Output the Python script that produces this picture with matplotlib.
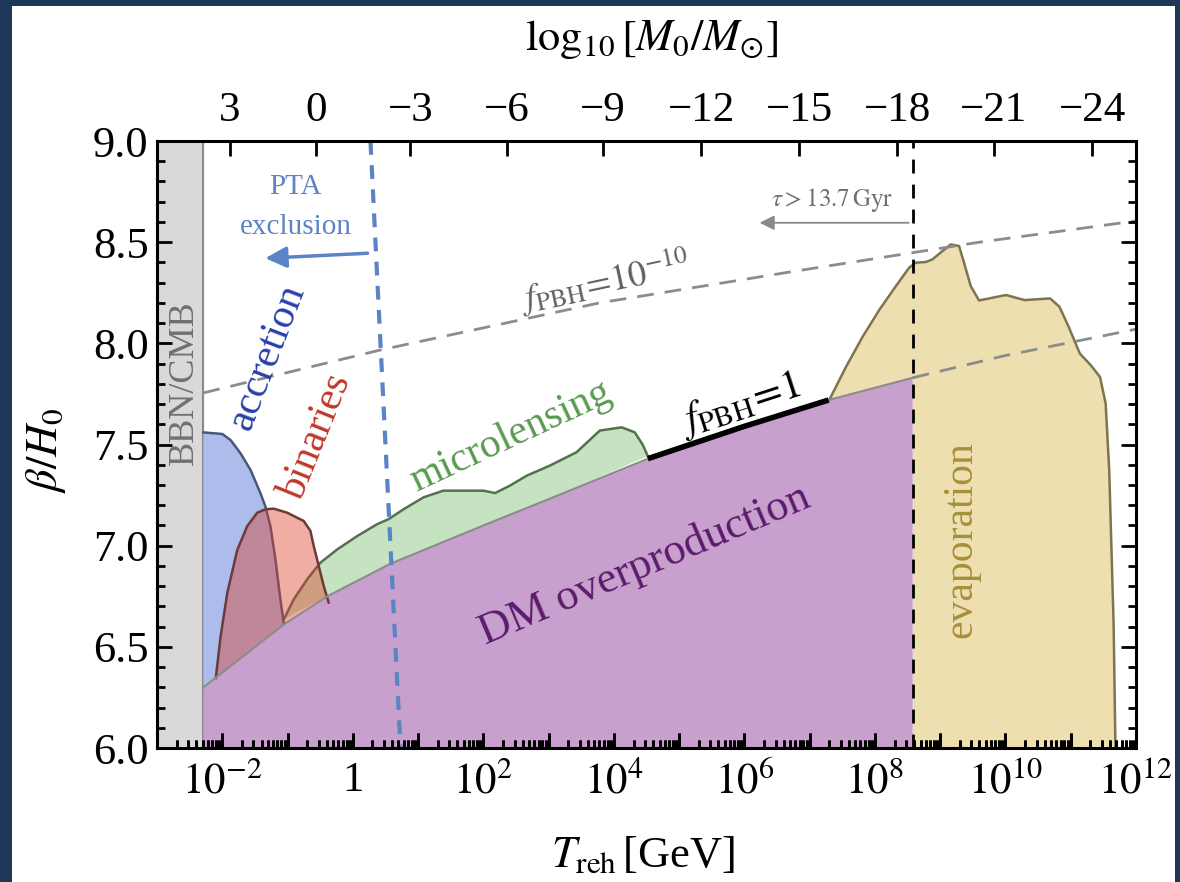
import numpy as np
import matplotlib.pyplot as plt
from matplotlib.patches import Rectangle
from matplotlib.ticker import FixedLocator, NullFormatter, NullLocator, MultipleLocator

plt.rcParams['font.family'] = 'Liberation Serif'
plt.rcParams['mathtext.fontset'] = 'stix'

# ---- data (log10 T_reh [GeV] , beta/H0) ----
bbn_logT = -2.29
evap_logT = 8.58

# DM overproduction boundary (f_PBH = 1)
dm_logT = [-2.29, -1.06, -0.39, 0.57, 2.0, 3.0, 4.52, 6.0, 7.29, 8.58, 10.0, 12.0]
dm_beta = [6.30, 6.61, 6.75, 6.91, 7.10, 7.23, 7.43, 7.59, 7.72, 7.83, 7.94, 8.07]

# f_PBH = 1e-10 line
f10_logT = [-2.29, -2.23, 0.42, 3.78, 6.72, 9.60, 12.0]
f10_beta = [7.755, 7.76, 7.967, 8.20, 8.354, 8.50, 8.605]

# f_PBH = 1 highlighted segment
fone_logT = [4.52, 7.29]

# accretion upper edge
acc_logT = [-2.29, -2.0, -1.873, -1.72, -1.567, -1.414, -1.338, -1.261, -1.185, -1.109, -1.058]
acc_beta = [7.56, 7.552, 7.522, 7.456, 7.374, 7.258, 7.192, 7.093, 6.929, 6.731, 6.616]

# binaries upper edge
bin_logT = [-2.10, -2.026, -1.924, -1.771, -1.618, -1.465, -1.338, -1.211, -1.006, -0.752, -0.65, -0.599, -0.523, -0.446, -0.37]
bin_beta = [6.346, 6.552, 6.766, 6.979, 7.097, 7.163, 7.180, 7.183, 7.163, 7.122, 7.073, 6.998, 6.900, 6.801, 6.719]

# microlensing upper edge
mic_logT = [-1.058, -0.905, -0.70, -0.497, -0.242, 0.064, 0.37, 0.547, 0.777, 1.083, 1.388, 1.694,
            2.0, 2.179, 2.408, 2.664, 3.02, 3.428, 3.784, 4.121, 4.32, 4.44, 4.52]
mic_beta = [6.636, 6.735, 6.834, 6.916, 6.981, 7.047, 7.106, 7.131, 7.18, 7.239, 7.272, 7.272,
            7.272, 7.26, 7.297, 7.346, 7.396, 7.462, 7.569, 7.585, 7.56, 7.50, 7.443]

# evaporation upper edge
eva_logT = [7.30, 7.557, 7.81, 8.066, 8.321, 8.524, 8.627, 8.78, 8.881, 9.034, 9.162, 9.289, 9.365,
            9.468, 9.595, 10.008, 10.29, 10.685, 10.827, 10.968, 11.139, 11.307, 11.449, 11.535,
            11.59, 11.658, 11.685]
eva_beta = [7.72, 7.884, 8.032, 8.165, 8.283, 8.374, 8.399, 8.402, 8.415, 8.456, 8.489, 8.481, 8.399,
            8.283, 8.212, 8.239, 8.214, 8.222, 8.181, 8.082, 7.95, 7.892, 7.834, 7.703,
            7.373, 6.6, 6.0]

# PTA exclusion line
pta_logT = [0.27, 0.73]
pta_beta = [9.0, 6.0]

# top axis: log10[M0/Msun] labels and where they sit in log10 T
top_labels = ['3', '0', '\u22123', '\u22126', '\u22129', '\u221212', '\u221215', '\u221218', '\u221221', '\u221224']
top_logT = [-1.888, -0.563, 0.879, 2.358, 3.835, 5.339, 6.843, 8.345, 9.824, 11.327]


def dm_at(lt):
    return np.interp(lt, dm_logT, dm_beta)


fig = plt.figure(figsize=(11.8, 8.82), dpi=100, facecolor='#1c3856')
fig.patches.append(Rectangle((12 / 1180, 0), 1163 / 1180, 876 / 882, transform=fig.transFigure,
                             facecolor='white', edgecolor='none', zorder=-10))
ax = fig.add_axes([0.1331, 0.1519, 0.8296, 0.6882])
ax.set_xscale('log')
ax.set_xlim(1e-3, 1e12)
ax.set_ylim(6.0, 9.0)

# BBN/CMB band
ax.axvspan(1e-3, 10 ** bbn_logT, color='#d9d9d9', zorder=0.1)
ax.axvline(10 ** bbn_logT, color='#8a8a8a', lw=1.5, zorder=0.15)

# DM overproduction
lt = np.array([x for x in dm_logT if x <= evap_logT])
bt = dm_at(lt)
ax.fill(10 ** np.r_[lt, lt[::-1][:1], lt[:1]], np.r_[bt, 6.0, 6.0], color='#c8a0cd', lw=0, zorder=0.2)

# evaporation
e_lt = np.array(eva_logT)
bot_lt = np.array([x for x in dm_logT if 7.30 < x < evap_logT])
poly_x = np.r_[e_lt, evap_logT, evap_logT, bot_lt[::-1]]
poly_y = np.r_[eva_beta, 6.0, dm_at(evap_logT), dm_at(bot_lt[::-1])]
ax.fill(10 ** poly_x, poly_y, facecolor='#eedfb1', edgecolor='none', zorder=0.2)
ax.plot(10 ** e_lt, eva_beta, color='#7f7450', lw=1.8, zorder=0.25)

# microlensing
m_lt = np.array(mic_logT)
inner = np.array([x for x in dm_logT if mic_logT[0] < x < mic_logT[-1]])
ax.fill(10 ** np.r_[m_lt, inner[::-1]], np.r_[mic_beta, dm_at(inner[::-1])],
        facecolor='#c6e3c1', edgecolor='none', zorder=0.3)
ax.plot(10 ** m_lt, mic_beta, color='#56704f', lw=1.8, zorder=0.35)

# accretion
a_lt = np.array(acc_logT)
inner = np.array([x for x in dm_logT if acc_logT[0] <= x < acc_logT[-1]])
ax.fill(10 ** np.r_[a_lt, inner[::-1]], np.r_[acc_beta, dm_at(inner[::-1])],
        facecolor='#acbdeb', edgecolor='none', zorder=0.3)
ax.plot(10 ** a_lt, acc_beta, color='#4a5878', lw=1.8, zorder=0.35)

# binaries (semi transparent)
b_lt = np.array(bin_logT)
inner = np.array([x for x in dm_logT if bin_logT[0] < x < bin_logT[-1]])
ax.fill(10 ** np.r_[b_lt, inner[::-1]], np.r_[bin_beta, dm_at(inner[::-1])],
        facecolor='#dc3c28', alpha=0.42, edgecolor='none', zorder=0.4)
ax.plot(10 ** b_lt, bin_beta, color='#6b3a3a', lw=1.8, zorder=0.45)

# DM boundary line
ax.plot(10 ** lt, bt, color='#8c8c8c', lw=1.5, zorder=0.5)
seg = np.linspace(fone_logT[0], fone_logT[1], 20)
ax.plot(10 ** seg, dm_at(seg), color='black', lw=4, solid_capstyle='butt', zorder=0.6)
rest = np.r_[evap_logT, [x for x in dm_logT if x > evap_logT]]
ax.plot(10 ** rest, dm_at(rest), color='#8c8c8c', lw=2, dashes=(6, 4), zorder=0.5)

# f_PBH = 1e-10
ax.plot(10 ** np.array(f10_logT), f10_beta, color='#8c8c8c', lw=2, dashes=(6, 4), zorder=0.5)

# evaporation line
ax.axvline(10 ** evap_logT, color='black', lw=2, dashes=(5, 4), zorder=0.6)

# PTA
ax.plot(10 ** np.array(pta_logT), pta_beta, color='#5b84c4', lw=3, dashes=(3.3, 2.5), zorder=0.6)

# arrows
ax.annotate('', xy=(10 ** -1.384, 8.42), xytext=(10 ** 0.268, 8.446),
            arrowprops=dict(arrowstyle='-|>', color='#5b84c4', lw=2.5, mutation_scale=32), zorder=7)
ax.annotate('', xy=(10 ** 6.19, 8.596), xytext=(10 ** 8.56, 8.596),
            arrowprops=dict(arrowstyle='-|>', color='#8a8a8a', lw=1.3, mutation_scale=22), zorder=7)

# labels
txt = dict(ha='center', va='center', zorder=8)
ax.text(10 ** -2.576, 7.804, 'BBN/CMB', rotation=90, fontsize=26, color='#707070', **txt)
ax.text(10 ** -1.307, 7.932, 'accretion', rotation=69, fontsize=30, color='#2940aa', **txt)
ax.text(10 ** -0.558, 7.537, 'binaries', rotation=68, fontsize=30, color='#c0392b', **txt)
ax.text(10 ** 2.41, 7.537, 'microlensing', rotation=25, fontsize=30, color='#5b9a52', **txt)
ax.text(10 ** 5.93, 7.695, r'$f_{\mathrm{PBH}}\!=\!1$', rotation=18, fontsize=30, color='black', **txt)
ax.text(10 ** 4.47, 6.904, 'DM overproduction', rotation=23, fontsize=32, color='#5c1a6c', **txt)
ax.text(10 ** 9.32, 7.028, 'evaporation', rotation=90, fontsize=30, color='#a88f3a', **txt)
ax.text(10 ** 3.86, 8.313, r'$f_{\mathrm{PBH}}\!=\!10^{-10}$', rotation=12, fontsize=26, color='#606060', **txt)
ax.text(10 ** 7.35, 8.708, r'$\tau > 13.7\,\mathrm{Gyr}$', fontsize=18, color='#707070', **txt)
ax.text(10 ** -0.876, 8.773, 'PTA', fontsize=21, color='#5b84c4', **txt)
ax.text(10 ** -0.876, 8.575, 'exclusion', fontsize=21, color='#5b84c4', **txt)

# ticks
dec = np.arange(-3, 13)
ax.xaxis.set_major_locator(FixedLocator(10.0 ** dec))
xlabels = []
for k in dec:
    if k % 2:
        xlabels.append('')
    elif k == 0:
        xlabels.append('1')
    else:
        xlabels.append(r'$10^{%d}$' % k)
ax.set_xticklabels(xlabels)
minor_pos = [m * 10.0 ** k for k in range(-3, 12) for m in range(2, 10)]
ax.xaxis.set_minor_locator(FixedLocator(minor_pos))
ax.xaxis.set_minor_formatter(NullFormatter())
ax.yaxis.set_major_locator(MultipleLocator(0.5))
ax.yaxis.set_minor_locator(MultipleLocator(0.1))
ax.set_yticklabels(['%.1f' % v for v in ax.get_yticks()])
ax.tick_params(which='both', direction='in', top=False, right=True, width=2, labelsize=31,
               color='black')
ax.tick_params(which='major', length=11, pad=10)
ax.tick_params(which='minor', length=6)
ax.tick_params(axis='y', which='major', pad=6, labelsize=32)
for s in ax.spines.values():
    s.set_linewidth(2.2)

# bottom tick marks drawn once more on top of the filled regions
xax = ax.get_xaxis_transform()
ax.vlines(10.0 ** dec, 0, 0.025, transform=xax, colors='black', lw=2, zorder=10)
ax.vlines(minor_pos, 0, 0.0135, transform=xax, colors='black', lw=2, zorder=10)

axt = ax.twiny()
axt.set_xscale('log')
axt.set_xlim(ax.get_xlim())
axt.xaxis.set_major_locator(FixedLocator(10.0 ** np.array(top_logT)))
axt.set_xticklabels(top_labels)
axt.xaxis.set_minor_locator(NullLocator())
axt.tick_params(direction='in', length=11, width=2, labelsize=31, pad=8)

fig.text(0.545, 0.030, r'$T_{\mathrm{reh}}\,$[GeV]', ha='center', va='center', fontsize=32)
fig.text(0.552, 0.955, r'$\log_{10}[M_0/M_{\odot}]$', ha='center', va='center', fontsize=32)
fig.text(0.039, 0.490, r'$\beta/H_0$', ha='center', va='center', rotation=90, fontsize=32)

fig.savefig('out.png', dpi=100, facecolor=fig.get_facecolor())
